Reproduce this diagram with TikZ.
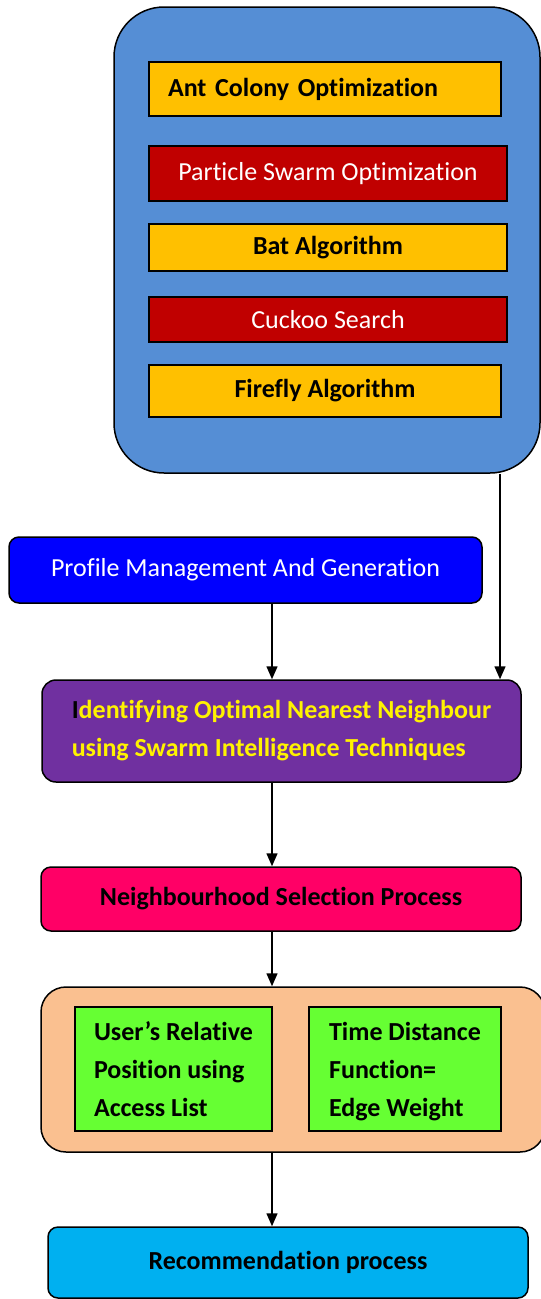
\documentclass[tikz,border=0pt]{standalone}
\usepackage{fontspec}
\setmainfont{Carlito}[Ligatures=NoCommon]
\usetikzlibrary{arrows.meta}

\definecolor{swarmblue}{HTML}{558ED5}
\definecolor{algoyellow}{HTML}{FFC000}
\definecolor{algored}{HTML}{C00000}
\definecolor{profileblue}{HTML}{0000FF}
\definecolor{identpurple}{HTML}{7030A0}
\definecolor{selectpink}{HTML}{FF0066}
\definecolor{grouppeach}{HTML}{FAC090}
\definecolor{factgreen}{HTML}{66FF33}
\definecolor{recomcyan}{HTML}{00B0F0}

\begin{document}
\begin{tikzpicture}[
  x=1pt, y=-1pt,
  box/.style={rectangle, draw=black, line width=1.5pt, inner sep=0pt, align=center, font=\fontsize{26}{38}\selectfont},
  bold/.style={font=\fontsize{26}{38}\selectfont\bfseries},
  algo/.style={box, minimum width=358pt},
  stage/.style={box, rounded corners=10pt, minimum width=480pt},
  fact/.style={box, bold, fill=factgreen, align=left, minimum height=124pt, text depth=0pt},
  flow/.style={-{Triangle[length=13pt,width=11pt]}, line width=1.5pt}
]
\useasboundingbox (0,0) rectangle (541,1299);

% swarm intelligence techniques
\node[box, fill=swarmblue, rounded corners=50pt, minimum width=426pt, minimum height=466pt] (swarm) at (327,240) {};
\node[algo, bold, fill=algoyellow, minimum width=352pt, minimum height=54pt, text width=314pt, inner xsep=19pt, align=left] (aco) at (325,89) {Ant Colony Optimization};
\node[algo, fill=algored, text=white, minimum height=55pt] (pso) at (328,173.5) {Particle Swarm Optimization};
\node[algo, bold, fill=algoyellow, minimum height=47pt] (bat) at (328,247.5) {Bat Algorithm};
\node[algo, fill=algored, text=white, minimum height=45pt] (cuckoo) at (328,319.5) {Cuckoo Search};
\node[algo, bold, fill=algoyellow, minimum width=352pt, minimum height=52pt] (firefly) at (325,391) {Firefly Algorithm};

% main flow
\node[stage, fill=profileblue, text=white, minimum width=473pt, minimum height=66pt] (profile) at (245.5,570) {Profile Management And Generation};
\node[stage, bold, fill=identpurple, text=yellow, align=left, minimum width=479pt, minimum height=102pt, rounded corners=14pt] (ident) at (281.5,731) {{\color{black}I}dentifying Optimal Nearest Neighbour\\using Swarm Intelligence Techniques};
\node[stage, bold, fill=selectpink, minimum height=64pt] (select) at (281,899) {Neighbourhood Selection Process};
\node[box, fill=grouppeach, rounded corners=25pt, minimum width=504pt, minimum height=165pt] (group) at (293,1069.5) {};
\node[fact, minimum width=197pt] (users) at (173.5,1069) {User’s Relative\\Position using\\Access List};
\node[fact, minimum width=192pt] (timedist) at (405,1069) {Time Distance\\Function=\\Edge Weight};
\node[stage, bold, fill=recomcyan, minimum height=71pt] (recom) at (288,1262.5) {Recommendation process};

% connectors
\coordinate (col) at (272,0);
\coordinate (side) at (500,0);
\draw[flow] (swarm.south -| side) -- (ident.north -| side);
\draw[flow] (profile.south -| col) -- (ident.north -| col);
\draw[flow] (ident.south -| col) -- (select.north -| col);
\draw[flow] (select.south -| col) -- (group.north -| col);
\draw[flow] (group.south -| col) -- (recom.north -| col);
\end{tikzpicture}
\end{document}
